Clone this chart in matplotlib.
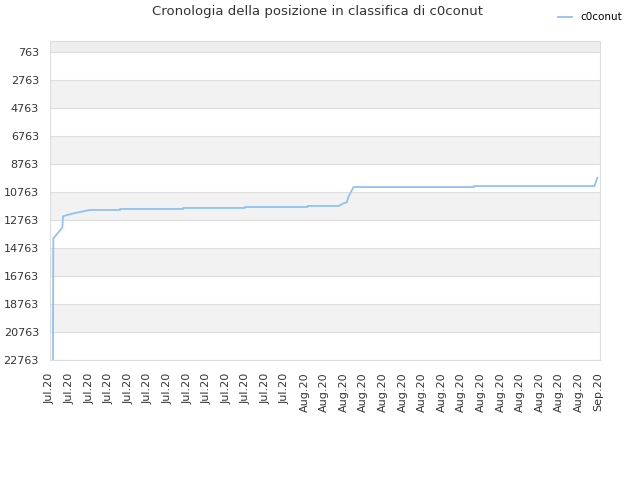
import numpy as np
import pandas as pd
import matplotlib
matplotlib.use("Agg")
import matplotlib.pyplot as plt

# data: days after 2020-07-07 and rank
days = [0.30, 0.34, 1.26, 1.33, 2.04, 3.07, 4.09, 7.15, 7.15, 13.6, 13.6,
        19.9, 19.9, 26.3, 26.3, 29.5, 29.9, 30.3, 30.5, 31.0, 43.3, 43.3,
        55.6, 55.9]
ranks = [22763, 14093, 13310, 12506, 12364, 12200, 12058, 12058, 11987, 11987, 11915,
         11915, 11844, 11844, 11773, 11773, 11602, 11510, 11083, 10421, 10421, 10350,
         10350, 9752]

start = pd.Timestamp("2020-07-07")
x = [start + pd.Timedelta(days=d) for d in days]

tick_dates = pd.date_range("2020-07-07", "2020-09-01", freq="2D")
tick_labels = [d.strftime("%b.%y") for d in tick_dates]
y_ticks = [763, 2763, 4763, 6763, 8763, 10763, 12763, 14763, 16763, 18763, 20763, 22763]

fig = plt.figure(figsize=(6.4, 4.8), dpi=100)
ax = fig.add_axes([50 / 640, 120 / 480, 550 / 640, 319 / 480])

y_top, y_bot = 1, 22763
ax.set_ylim(y_bot, y_top)
ax.set_xlim(tick_dates[0], tick_dates[-1] + pd.Timedelta(hours=4))

# alternating bands
ax.axhspan(y_top, y_ticks[0], color="#eeeeee", zorder=0, lw=0)
for i in range(len(y_ticks) - 1):
    if i % 2 == 1:
        ax.axhspan(y_ticks[i], y_ticks[i + 1], color="#f2f2f2", zorder=0, lw=0)
for yt in y_ticks:
    ax.axhline(yt, color="#dddddd", lw=0.8, zorder=1)

ax.plot(x, ranks, color="#90c2f2", lw=1.3, label="c0conut", zorder=3)

ax.set_yticks(y_ticks)
ax.set_yticklabels([str(v) for v in y_ticks], fontsize=8, color="#333333")
ax.set_xticks(tick_dates)
ax.set_xticklabels(tick_labels, rotation=90, fontsize=8, color="#333333")
ax.tick_params(axis="y", length=0, pad=8)
ax.tick_params(axis="x", length=0, pad=9)

for s in ax.spines.values():
    s.set_color("#dddddd")

fig.text(318 / 640, 1 - 12 / 480, "Cronologia della posizione in classifica di c0conut",
         ha="center", va="center", fontsize=9.5, color="#333333")
ax.legend(loc="upper left", bbox_to_anchor=(549 / 640, 1 - 3 / 480),
          bbox_transform=fig.transFigure, frameon=False, fontsize=7.5,
          handlelength=1.3, handletextpad=0.8)

fig.savefig("out.png", dpi=100)
